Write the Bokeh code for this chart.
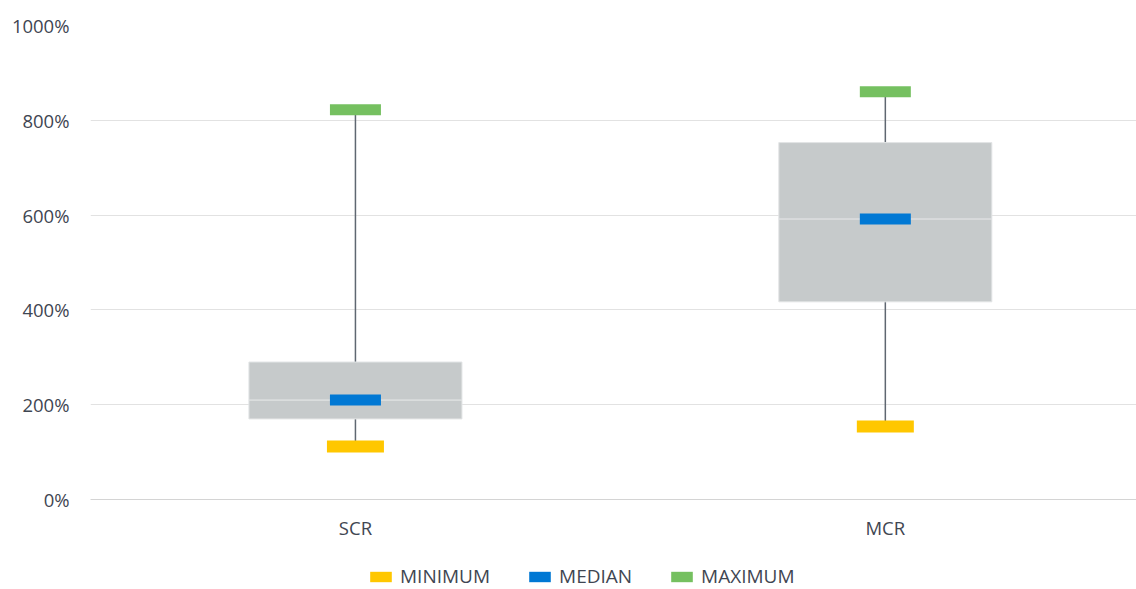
from bokeh.plotting import figure
from bokeh.layouts import column
from bokeh.models import (Range1d, FixedTicker, PrintfTickFormatter, Legend, LegendItem,
                          ColumnDataSource)
from bokeh.embed import file_html
from bokeh.resources import INLINE

categories = ["SCR", "MCR"]
minimum = [112, 154]
q1 = [170, 417]
median = [210, 592]
q3 = [290, 753]
maximum = [822, 860]
y_ticks = [0, 200, 400, 600, 800, 1000]
series_names = ["MINIMUM", "MEDIAN", "MAXIMUM"]
series_fields = ["mn", "med", "mx"]
series_colors = ["#FFC700", "#0078D4", "#75C060"]

xpos = [i + 0.5 for i in range(len(categories))]
src = ColumnDataSource(dict(x=xpos, cat=categories, mn=minimum, q1=q1, med=median, q3=q3, mx=maximum))

FONT = "Open Sans"
TXT = "#3F4652"

p = figure(width=1136, height=545, x_range=Range1d(0, 1.974), y_range=Range1d(0, 1000),
           output_backend="svg", toolbar_location=None,
           min_border_left=90, min_border_right=0, min_border_top=25, min_border_bottom=46)
p.outline_line_color = None

# whiskers
p.segment(x0="x", y0="mn", x1="x", y1="mx", source=src, line_color="#5F6771", line_width=1.5)
# box (two stacked parts)
p.vbar(x="x", bottom="q1", top="med", width=0.402, source=src, fill_color="#C6CACB", line_color="#E2E4E5", line_width=1)
p.vbar(x="x", bottom="med", top="q3", width=0.402, source=src, fill_color="#C6CACB", line_color="#E2E4E5", line_width=1)

p.rect(x="x", y="mn", width=57, height=12, width_units="screen", height_units="screen", source=src,
       fill_color=series_colors[0], line_color=None)
p.rect(x="x", y="med", width=51, height=11, width_units="screen", height_units="screen", source=src,
       fill_color=series_colors[1], line_color=None)
p.rect(x="x", y="mx", width=51, height=11, width_units="screen", height_units="screen", source=src,
       fill_color=series_colors[2], line_color=None)

# axes
p.yaxis.ticker = FixedTicker(ticks=y_ticks)
p.yaxis.formatter = PrintfTickFormatter(format="%d%%")
p.yaxis.axis_line_color = None
p.yaxis.major_tick_line_color = None
p.yaxis.minor_tick_line_color = None
p.yaxis.major_tick_out = 0
p.yaxis.minor_tick_out = 0
p.yaxis.major_label_standoff = 21
p.yaxis.major_label_text_font = FONT
p.yaxis.major_label_text_font_size = "18.5px"
p.yaxis.major_label_text_color = TXT

p.xaxis.ticker = FixedTicker(ticks=xpos)
p.xaxis.major_label_overrides = {xpos[i]: categories[i] for i in range(len(categories))}
p.xaxis.axis_line_color = "#D4D4D4"
p.xaxis.axis_line_width = 1
p.xaxis.major_tick_line_color = None
p.xaxis.minor_tick_line_color = None
p.xaxis.major_tick_out = 0
p.xaxis.minor_tick_out = 0
p.xaxis.major_label_standoff = 15
p.xaxis.major_label_text_font = FONT
p.xaxis.major_label_text_font_size = "18.5px"
p.xaxis.major_label_text_color = TXT

p.xgrid.grid_line_color = None
p.ygrid.grid_line_color = "#E2E2E2"
p.ygrid.grid_line_width = 1

# legend strip (its glyphs use the same data, which lies outside this strip's 0..1 ranges)
lg = figure(width=1136, height=44, x_range=Range1d(0, 1), y_range=Range1d(0, 1),
            output_backend="svg", toolbar_location=None, x_axis_location=None, y_axis_location=None,
            min_border_left=0, min_border_right=0, min_border_top=0, min_border_bottom=0)
lg.outline_line_color = None
lg.xgrid.grid_line_color = None
lg.ygrid.grid_line_color = None
items = []
for name, field, col in zip(series_names, series_fields, series_colors):
    r = lg.rect(x="x", y=field, width=0.1, height=10, source=src, fill_color=col, line_color=None)
    items.append(LegendItem(label=name, renderers=[r]))
legend = Legend(items=items, orientation="horizontal", location=(277, 0), margin=0, padding=0,
                spacing=36, label_standoff=6, glyph_width=27, glyph_height=13,
                label_text_font=FONT, label_text_font_size="19px", label_text_color=TXT,
                border_line_color=None, background_fill_alpha=0)
lg.add_layout(legend, "center")

layout = column(p, lg, spacing=0)
open("out.html", "w").write(file_html(layout, INLINE))
